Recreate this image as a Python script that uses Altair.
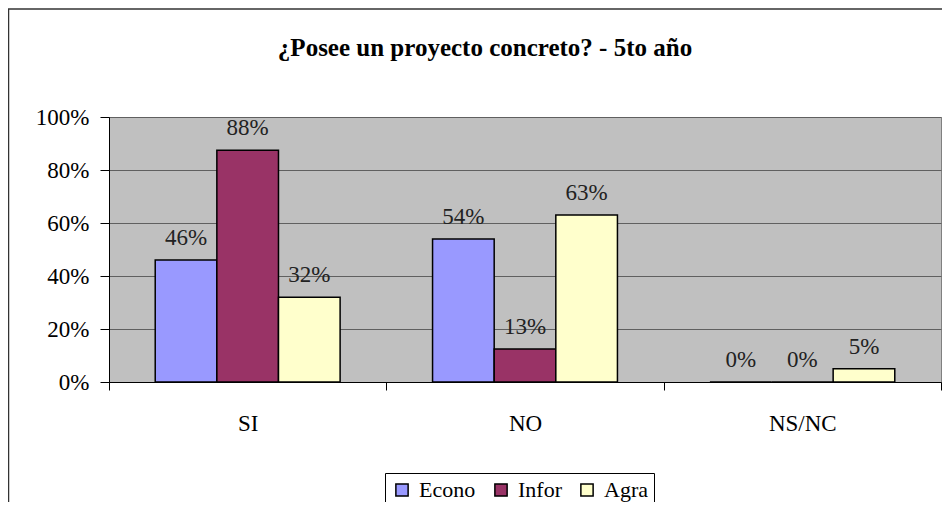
import altair as alt
import pandas as pd

categories = ["SI", "NO", "NS/NC"]
series = ["Econo", "Infor", "Agra"]
econo = [0.46, 0.54, 0.0]
infor = [0.875, 0.125, 0.0]
agra = [0.32, 0.63, 0.05]
colors = ["#9999FF", "#993366", "#FFFFCC"]
y_ticks = [0, 0.2, 0.4, 0.6, 0.8, 1.0]
title_text = "¿Posee un proyecto concreto? - 5to año"

rows = []
for s, vals in zip(series, [econo, infor, agra]):
    for c, v in zip(categories, vals):
        rows.append({"cat": c, "series": s, "value": v})
df = pd.DataFrame(rows)

FONT = "Liberation Serif"
W, H = 832, 265

x_enc = alt.X("cat:N", sort=categories, title=None,
              scale=alt.Scale(paddingInner=0, paddingOuter=0),
              axis=alt.Axis(tickBand="extent", labelAngle=0, labelFont=FONT,
                            labelFontSize=23, labelColor="#000", domainColor="#000",
                            tickColor="#000", tickSize=8, labelPadding=22, grid=False))
xo_enc = alt.XOffset("series:N", sort=series,
                     scale=alt.Scale(paddingInner=0, paddingOuter=0.75))
y_enc = alt.Y("value:Q", title=None,
              scale=alt.Scale(domain=[0, 1], nice=False),
              axis=alt.Axis(values=y_ticks, format=".0%", labelFont=FONT,
                            labelFontSize=23, labelColor="#000", domainColor="#000",
                            tickColor="#000", tickSize=9, labelPadding=11,
                            grid=True, gridColor="#606060"))
color_enc = alt.Color("series:N", sort=series,
                      scale=alt.Scale(domain=series, range=colors),
                      legend=alt.Legend(title=None, orient="none", legendX=276,
                                        legendY=356, direction="horizontal",
                                        strokeColor="#000", padding=6,
                                        labelFont=FONT, labelFontSize=22,
                                        labelColor="#000",
                                        symbolType="square", symbolSize=150,
                                        symbolStrokeColor="#000",
                                        symbolStrokeWidth=1.5,
                                        columnPadding=14, labelOffset=6))

base = alt.Chart(df)
bars = base.mark_bar(stroke="#000", strokeWidth=1.5).encode(
    x=x_enc, xOffset=xo_enc, y=y_enc, color=color_enc)
labels = base.mark_text(baseline="bottom", dy=-10, font=FONT, fontSize=23,
                        color="#222").encode(
    x=alt.X("cat:N", sort=categories), xOffset=alt.XOffset("series:N", sort=series),
    y="value:Q", text=alt.Text("value:Q", format=".0%"))

frame_df = pd.DataFrame({"a": [0]})
frame_left = alt.Chart(frame_df).mark_rule(color="#333", strokeWidth=1.5).encode(
    x=alt.value(-100.5), y=alt.value(-108), y2=alt.value(500))
frame_top = alt.Chart(frame_df).mark_rule(color="#333", strokeWidth=1.5).encode(
    x=alt.value(-101), x2=alt.value(900), y=alt.value(-108))

chart = alt.layer(bars, labels, frame_left, frame_top).properties(
    width=W, height=H,
    title=alt.TitleParams(title_text, font=FONT, fontSize=25, fontWeight="bold",
                          anchor="middle", dx=-40, offset=-53, color="#000"),
    autosize=alt.AutoSizeParams(type="none"),
    padding={"left": 101, "top": 109, "right": 1, "bottom": 120},
).configure_view(fill="#C0C0C0", stroke="#808080", strokeWidth=1)

chart.save("out.html", embed_options={"renderer": "svg", "actions": False})
